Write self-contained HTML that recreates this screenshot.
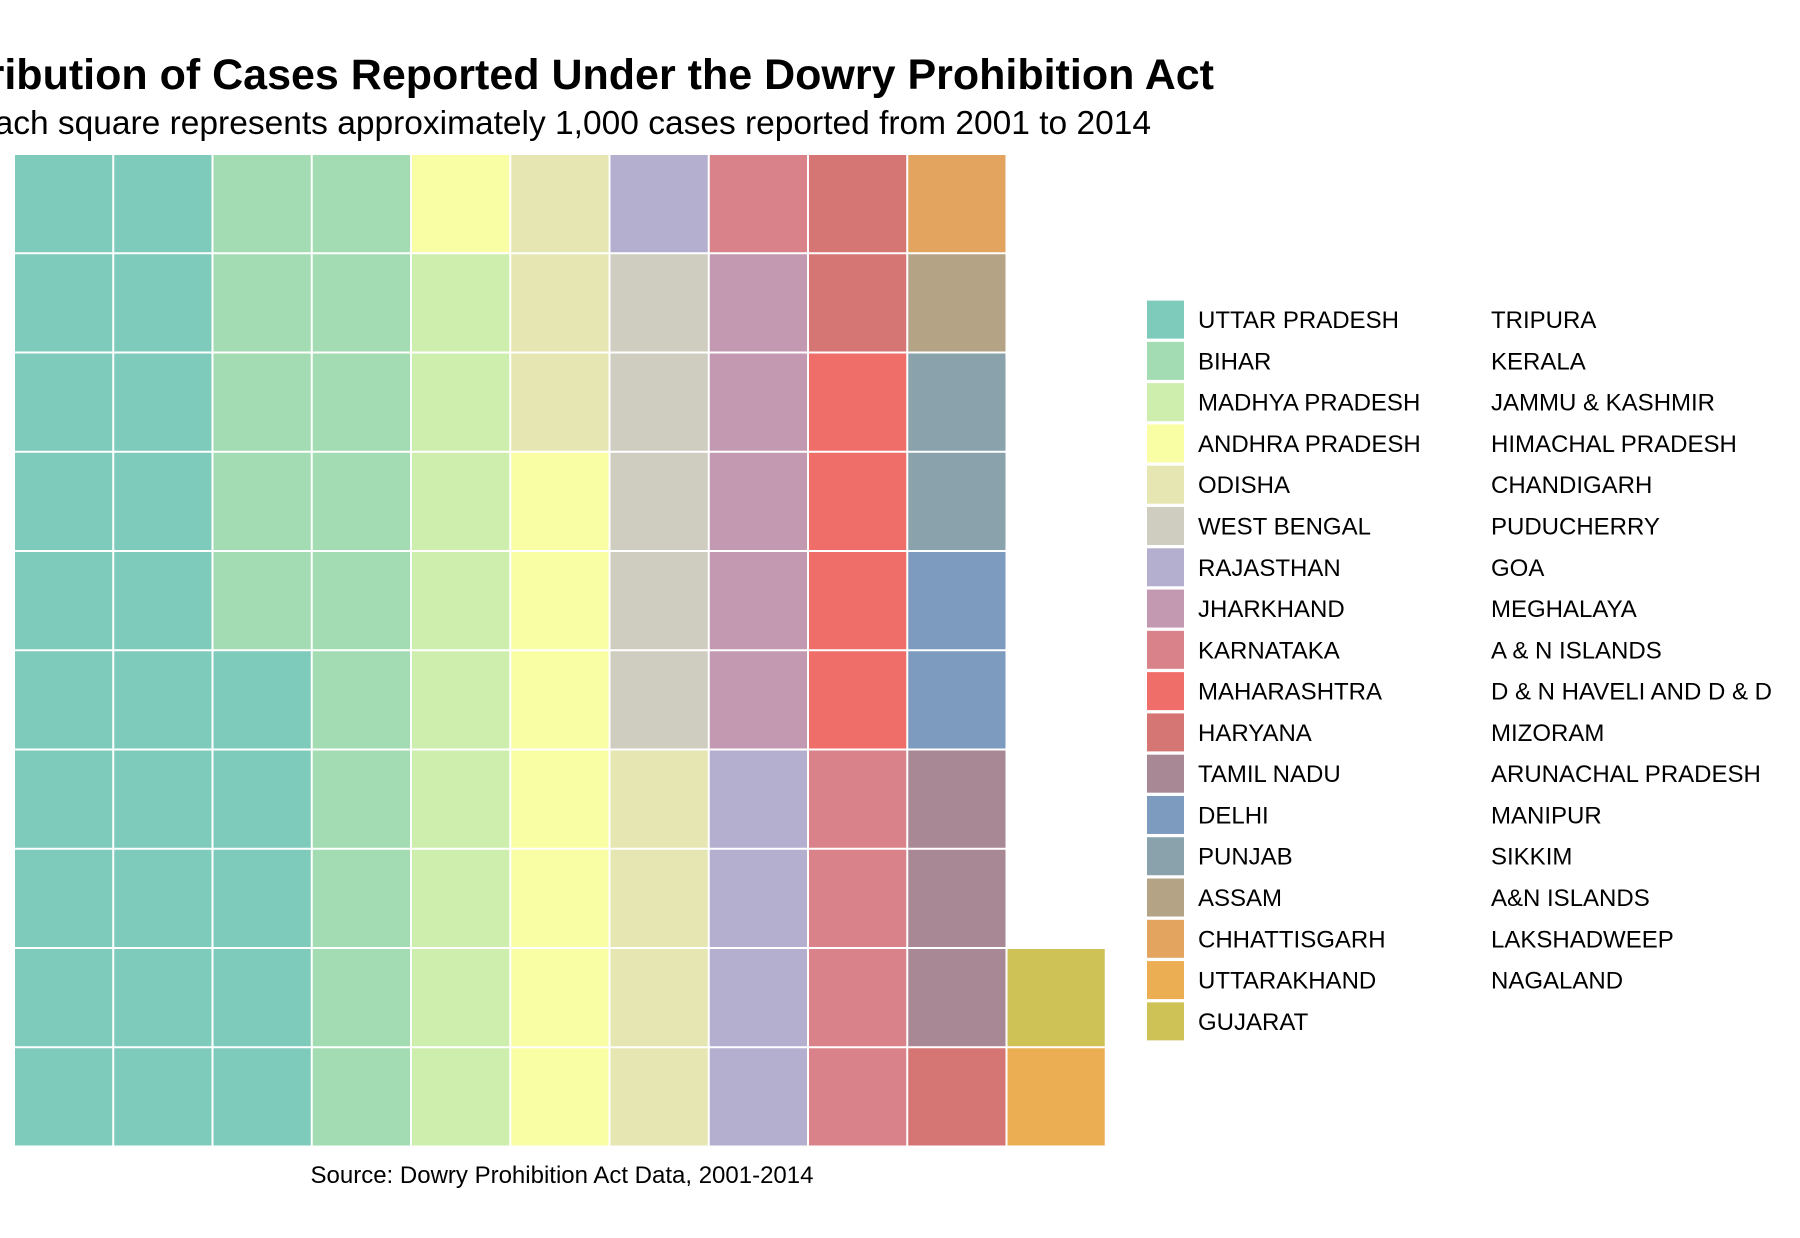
<!DOCTYPE html>
<html><head><meta charset="utf-8">
<style>
html,body{margin:0;padding:0;background:#fff;}
svg{display:block;font-family:"Liberation Sans",Arial,sans-serif;}
</style></head>
<body>
<svg id="chart" width="1800" height="1238" viewBox="0 0 1800 1238">
<rect width="1800" height="1238" fill="#fff"/>
<text x="1214" y="89" text-anchor="end" font-size="43" font-weight="bold" fill="#000">Distribution of Cases Reported Under the Dowry Prohibition Act</text>
<text x="1151" y="134" text-anchor="end" font-size="33.5" fill="#000">Each square represents approximately 1,000 cases reported from 2001 to 2014</text>
<g id="cells"></g>
<g id="legend"></g>
<text x="562" y="1183" text-anchor="middle" font-size="24" fill="#000">Source: Dowry Prohibition Act Data, 2001-2014</text>
</svg>
<script>
const states = ["UTTAR PRADESH","BIHAR","MADHYA PRADESH","ANDHRA PRADESH","ODISHA","WEST BENGAL","RAJASTHAN","JHARKHAND","KARNATAKA","MAHARASHTRA","HARYANA","TAMIL NADU","DELHI","PUNJAB","ASSAM","CHHATTISGARH","UTTARAKHAND","GUJARAT"];
const squares = [25,15,9,8,7,5,5,5,5,4,3,3,2,2,1,1,1,1];
const stateColors = ["#7fcbbb","#a3dbb2","#cdeeac","#f9fea5","#e6e6b2","#cfcdc0","#b4afcf","#c398b1","#da8289","#f06e6a","#d57574","#a98895","#7d9abf","#8aa2ac","#b4a385","#e3a460","#ebae52","#cec155"];
const otherStates = ["TRIPURA","KERALA","JAMMU & KASHMIR","HIMACHAL PRADESH","CHANDIGARH","PUDUCHERRY","GOA","MEGHALAYA","A & N ISLANDS","D & N HAVELI AND D & D","MIZORAM","ARUNACHAL PRADESH","MANIPUR","SIKKIM","A&N ISLANDS","LAKSHADWEEP","NAGALAND"];

const NS = "http://www.w3.org/2000/svg";
const rowsPerCol = 10;
const left = 14, bottom = 1146.5, pitch = 99.25, gap = 2;
function xPos(col){ return left + col*pitch; }
function yPos(row){ return bottom - (row+1)*pitch; }

const cells = document.getElementById('cells');
let idx = 0;
states.forEach((s, si) => {
  for (let k = 0; k < squares[si]; k++) {
    const col = Math.floor(idx / rowsPerCol), row = idx % rowsPerCol;
    const r = document.createElementNS(NS, 'rect');
    r.setAttribute('x', xPos(col) + gap/2);
    r.setAttribute('y', yPos(row) + gap/2);
    r.setAttribute('width', pitch - gap);
    r.setAttribute('height', pitch - gap);
    r.setAttribute('fill', stateColors[si]);
    
    
    cells.appendChild(r);
    idx++;
  }
});

const legend = document.getElementById('legend');
const ly0 = 319.6, lstep = 41.28;
states.forEach((s, i) => {
  const cy = ly0 + i*lstep;
  const r = document.createElementNS(NS, 'rect');
  r.setAttribute('x', 1147); r.setAttribute('y', cy - 19);
  r.setAttribute('width', 37); r.setAttribute('height', 38);
  r.setAttribute('fill', stateColors[i]);
  
  
  legend.appendChild(r);
  const t = document.createElementNS(NS, 'text');
  t.setAttribute('x', 1198); t.setAttribute('y', cy + 8.5);
  t.setAttribute('font-size', '24'); t.textContent = s;
  
  
  legend.appendChild(t);
});
otherStates.forEach((s, i) => {
  const cy = ly0 + i*lstep;
  const t = document.createElementNS(NS, 'text');
  t.setAttribute('x', 1491); t.setAttribute('y', cy + 8.5);
  t.setAttribute('font-size', '24'); t.textContent = s;
  
  
  legend.appendChild(t);
});
</script>
</body></html>
